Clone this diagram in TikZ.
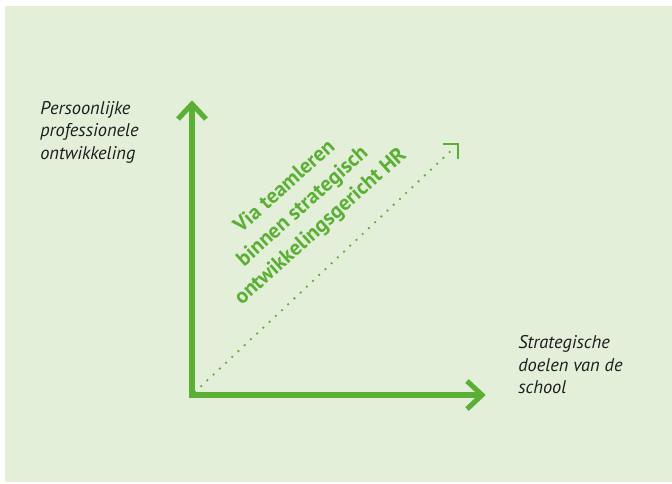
\documentclass[tikz,border=0pt]{standalone}
\usepackage{fontspec}
\setmainfont{PT Sans}
\begin{document}
\definecolor{leaf}{HTML}{5AAF34}
\definecolor{pale}{HTML}{E4EFDA}
\definecolor{ink}{HTML}{1E1E1E}
\begin{tikzpicture}[x=0.75pt,y=-0.75pt,
  axis/.style={draw=leaf,line width=3.8pt,miter limit=10},
  guide/.style={draw=leaf,line width=1.9pt,line cap=round,dash pattern=on 0pt off 6.4pt},
  corner/.style={draw=leaf,line width=1.9pt},
  axislabel/.style={inner sep=0pt,align=left,text=ink,font=\fontsize{13.8}{17}\selectfont\itshape},
  pathlabel/.style={inner sep=0pt,align=center,text=leaf,font=\fontsize{16}{20.2}\selectfont\bfseries}]
  % canvas and background panel
  \useasboundingbox (0,0) rectangle (672,483);
  \fill[pale] (5,6) rectangle (672,482);
  % axes
  \coordinate (O) at (192,395);
  \coordinate (Ytop) at (192,104);
  \coordinate (Xend) at (482,395);
  \draw[axis] (Ytop) -- (O) -- (Xend);
  \draw[axis] (Ytop) ++(-14,15) -- (Ytop) -- ++(14,15);
  \draw[axis] (Xend) ++(-15,-14) -- (Xend) -- ++(-15,14);
  % diagonal development path
  \coordinate (D0) at (195,392);
  \coordinate (D1) at (455,147);
  \draw[guide] (D0) -- (D1);
  \draw[corner] (443,144) -- (458,144) -- (458,159);
  % labels
  \node[axislabel,anchor=north west] (ylab) at (40,101) {Persoonlijke\\professionele\\ontwikkeling};
  \node[axislabel,anchor=north west] (xlab) at (518,335) {Strategische\\doelen van de\\school};
  \node[pathlabel,rotate=42] (route) at (303,207) {Via teamleren\\binnen strategisch\\ontwikkelingsgericht HR};
\end{tikzpicture}
\end{document}
